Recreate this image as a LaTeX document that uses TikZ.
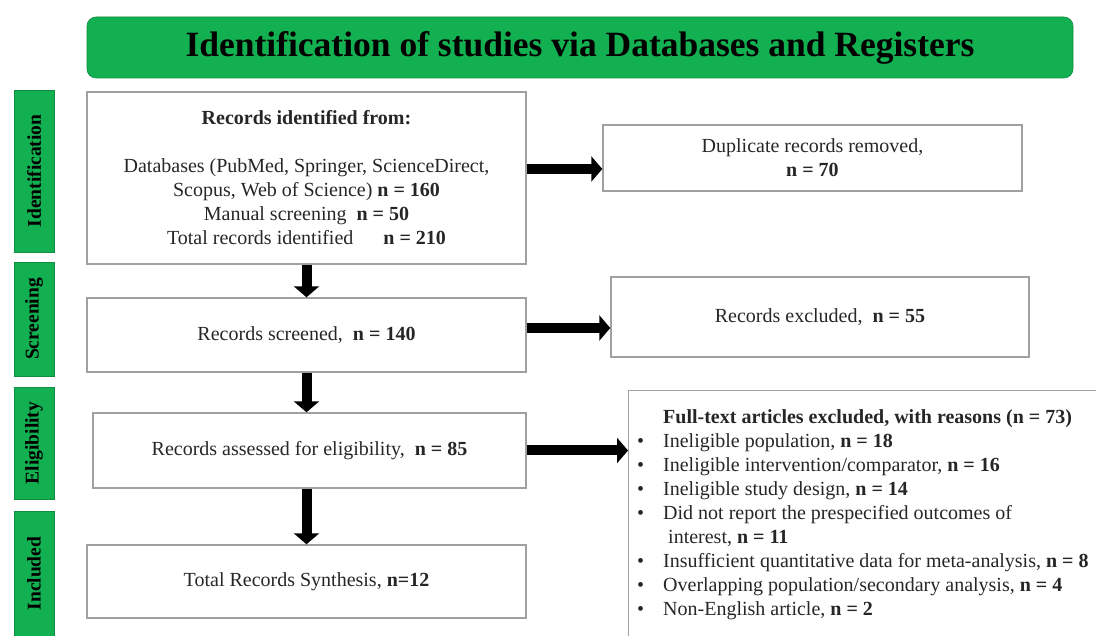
\documentclass[tikz,border=0pt]{standalone}
\usepackage{fontspec}
\setmainfont{Liberation Serif}
\usetikzlibrary{arrows.meta,positioning}

\definecolor{prismagreen}{RGB}{18,176,80}
\definecolor{boxgray}{RGB}{160,160,160}
\tikzset{
  stagebox/.style={draw=boxgray,line width=1.4pt,align=center,inner sep=0pt,text=black!85},
  phase/.style={fill=prismagreen,draw=prismagreen!80!black,line width=0.6pt,rotate=90,
    minimum height=40pt,inner sep=0pt,font=\fontsize{19.5}{21}\selectfont\bfseries},
  bigarrow/.style={line width=10pt,-{Triangle[length=11pt,width=25pt]}}
}
\newcommand{\bul}{\llap{\textbullet\hspace{19pt}}}

\begin{document}
\begin{tikzpicture}[x=1pt,y=-1pt,font=\fontsize{20}{24}\selectfont]
  \useasboundingbox (0,0) rectangle (1096,636);
  % banner
  \node[fill=prismagreen,draw=prismagreen!80!black,line width=0.6pt,rounded corners=9pt,
    minimum width=986pt,minimum height=61pt,font=\fontsize{35.5}{38}\selectfont\bfseries]
    (banner) at (580,47.5) {Identification of studies via Databases and Registers};
  % phases
  \node[phase,minimum width=162pt] (ident) at (34,171) {Identification};
  \node[phase,minimum width=114pt] (screen) at (34,319) {Screening};
  \node[phase,minimum width=112pt] (elig) at (34,443) {Eligibility};
  \node[phase,minimum width=125pt] (incl) at (34,573.5) {Included};
  % main column
  \node[stagebox,minimum width=439pt,minimum height=172pt] (identified) at (306.5,178)
    {\textbf{Records identified from:}\\[24pt]
     Databases (PubMed, Springer, ScienceDirect,\\
     Scopus, Web of Science) \textbf{n = 160}\\
     Manual screening \ \textbf{n = 50}\\
     Total records identified \quad\ \textbf{n = 210}};
  \node[stagebox,minimum width=439pt,minimum height=74pt] (screened) at (306.5,335)
    {Records screened, \ \textbf{n = 140}};
  \node[stagebox,minimum width=433pt,minimum height=75pt] (assessed) at (309.5,450.5)
    {Records assessed for eligibility, \ \textbf{n = 85}};
  \node[stagebox,minimum width=439pt,minimum height=73pt] (synthesis) at (306.5,581.5)
    {Total Records Synthesis, \textbf{n=12}};
  % side column
  \node[stagebox,minimum width=419pt,minimum height=66pt] (duplicates) at (812.5,158)
    {Duplicate records removed,\\ \textbf{n = 70}};
  \node[stagebox,minimum width=418pt,minimum height=80pt] (excluded) at (820,317)
    {Records excluded, \ \textbf{n = 55}};
  \node[stagebox,anchor=north west,minimum width=480pt,minimum height=260pt] (fulltext) at (628,390) {};
  \node[anchor=north west,align=left,inner sep=0pt,text=black!85] (reasons) at (663,409)
    {\textbf{Full-text articles excluded, with reasons (n = 73)}\\
     \bul Ineligible population, \textbf{n = 18}\\
     \bul Ineligible intervention/comparator, \textbf{n = 16}\\
     \bul Ineligible study design, \textbf{n = 14}\\
     \bul Did not report the prespecified outcomes of\\
     \ interest, \textbf{n = 11}\\
     \bul Insufficient quantitative data for meta-analysis, \textbf{n = 8}\\
     \bul Overlapping population/secondary analysis, \textbf{n = 4}\\
     \bul Non-English article, \textbf{n = 2}};
  % arrows
  \draw[bigarrow] (identified.south) -- (screened.north);
  \draw[bigarrow] (screened.south) -- (screened.south |- assessed.north);
  \draw[bigarrow] (synthesis.north |- assessed.south) -- (synthesis.north);
  \draw[bigarrow] ([yshift=9pt]identified.east) -- ([yshift=9pt]identified.east -| duplicates.west);
  \draw[bigarrow] ([yshift=7pt]screened.east) -- ([yshift=7pt]screened.east -| excluded.west);
  \draw[bigarrow] (assessed.east) -- (assessed.east -| fulltext.west);
\end{tikzpicture}
\end{document}
